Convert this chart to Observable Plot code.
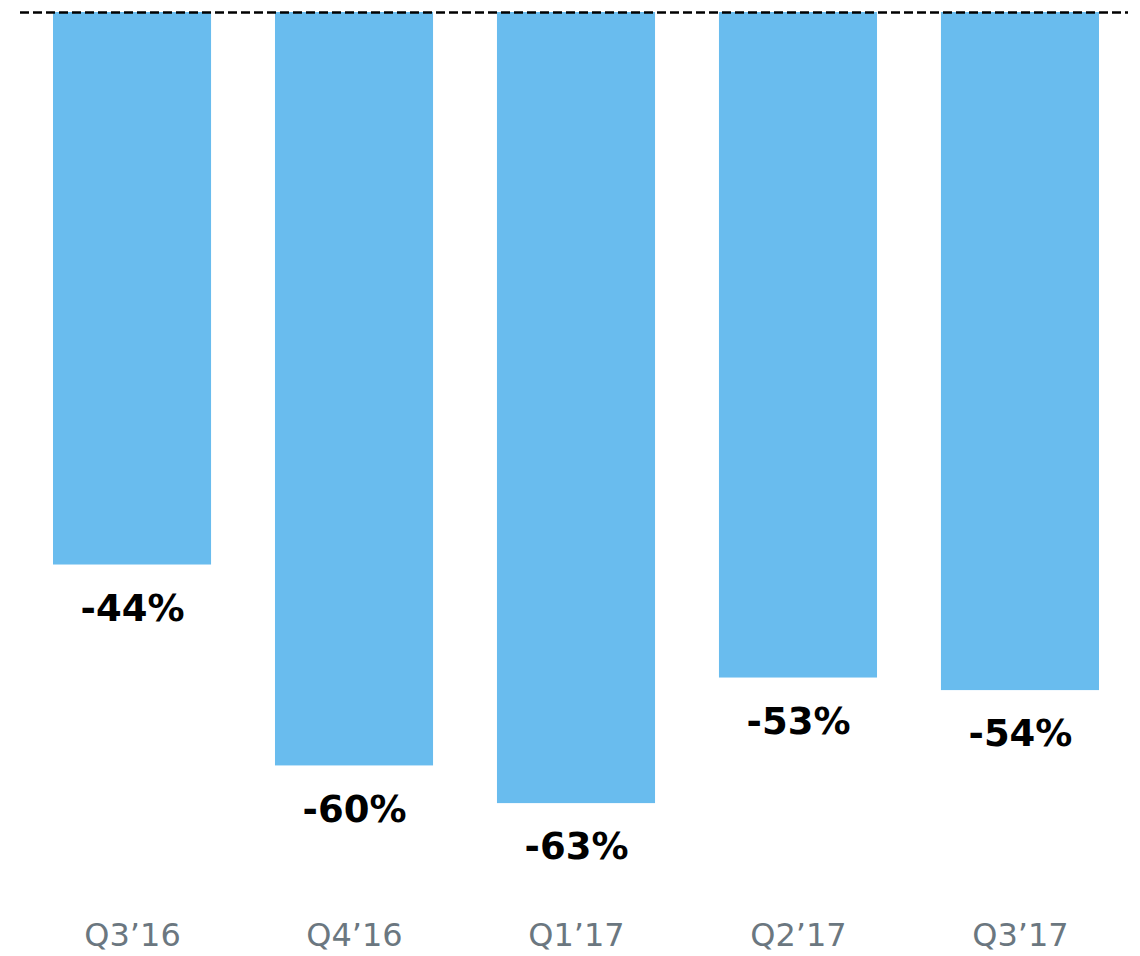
<!DOCTYPE html>
<html>
<head>
<meta charset="utf-8">
<script src="https://cdn.jsdelivr.net/npm/d3@7"></script>
<script src="https://cdn.jsdelivr.net/npm/@observablehq/plot@0.6"></script>
<style>
  html, body { margin: 0; padding: 0; background: #fff; }
  #chart svg { display: block; }
</style>
</head>
<body>
<div id="chart"></div>
<script>
const quarters = ["Q3\u201916", "Q4\u201916", "Q1\u201917", "Q2\u201917", "Q3\u201917"];
const values = [-44, -60, -63, -53, -54];
const labels = ["-44%", "-60%", "-63%", "-53%", "-54%"];

const data = quarters.map((q, i) => ({ q, v: values[i], label: labels[i] }));

const chart = Plot.plot({
  width: 1140,
  height: 956,
  marginTop: 12,
  marginBottom: 65,
  marginLeft: 53,
  marginRight: 41,
  style: { fontFamily: "'DejaVu Sans', sans-serif", background: "#fff" },
  x: { domain: quarters, paddingInner: 0.288, paddingOuter: 0, axis: null, round: false },
  y: { domain: [-70, 0], axis: null },
  marks: [
    Plot.barY(data, { x: "q", y: "v", fill: "#69BCEE" }),
    Plot.ruleY([0], { stroke: "#000", strokeWidth: 2.5, strokeDasharray: "9,4", insetLeft: -33, insetRight: -29 }),
    Plot.text(data, { x: "q", y: "v", text: "label", dy: 44, fontSize: 37, fontWeight: 700, fill: "#000" }),
    Plot.axisX({ tickSize: 0, tickPadding: 32, fontSize: 32, color: "#6B7780", label: null })
  ]
});
document.getElementById("chart").append(chart);
</script>
</body>
</html>
